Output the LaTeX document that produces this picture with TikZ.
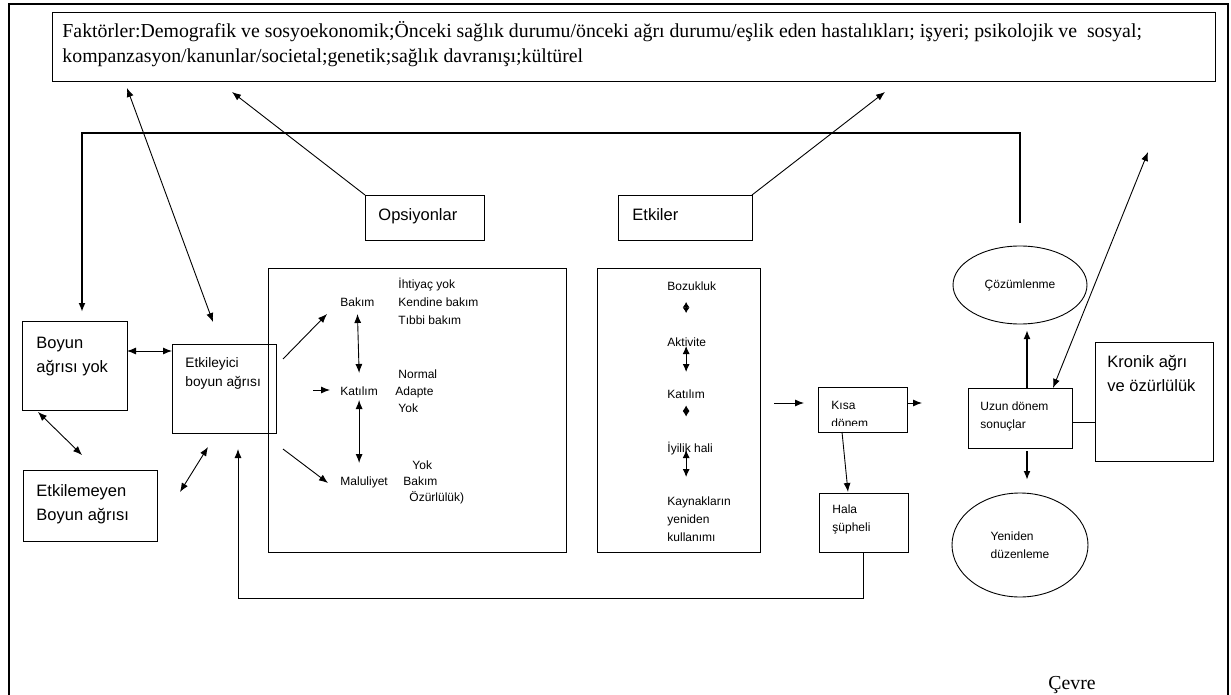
\documentclass[tikz,border=0pt]{standalone}
\usepackage{fontspec}
\setmainfont{Liberation Serif}
\setsansfont{Liberation Sans}
\usetikzlibrary{arrows.meta,shapes.geometric,calc}

\begin{document}
\begin{tikzpicture}[x=1pt,y=-1pt,>={Latex[length=9pt,width=7pt]},
line width=0.9pt,
box/.style={draw,rectangle,inner sep=0pt,outer sep=0pt,anchor=north west},
oval/.style={draw,ellipse,inner sep=0pt,outer sep=0pt,align=left,font=\sffamily\fontsize{12}{18}\selectfont},
smalltxt/.style={font=\sffamily\fontsize{12}{18}\selectfont,inner sep=0pt,align=left,anchor=base west},
midtxt/.style={smalltxt,font=\sffamily\fontsize{13.7}{19}\selectfont},
bigtxt/.style={smalltxt,font=\sffamily\fontsize{16.5}{24}\selectfont},
serif/.style={font=\rmfamily\fontsize{19.8}{25}\selectfont,inner sep=0pt,align=left,anchor=base west},
fat/.style={line width=2.5pt},
diam/.style={{Latex[length=5.5pt,width=7pt]}-{Latex[length=5.5pt,width=7pt]}}]

\useasboundingbox (0,0) rectangle (1231,695);
\draw[line width=1.2pt] (9,695) -- (9,4) -- (1228,4) -- (1228,695);

\node[box,minimum width=1163pt,minimum height=69pt] (fak) at (52,12) {};
\node[serif] (fakT) at (62,63) {Faktörler:Demografik ve sosyoekonomik;Önceki sağlık durumu/önceki ağrı durumu/eşlik eden hastalıkları; işyeri; psikolojik ve~ sosyal;\\kompanzasyon/kanunlar/societal;genetik;sağlık davranışı;kültürel};

\node[box,minimum width=119pt,minimum height=45pt] (ops) at (365,195) {};
\node[bigtxt] (opsT) at (378,221) {Opsiyonlar};
\node[box,minimum width=134pt,minimum height=45pt] (etkb) at (618,195) {};
\node[bigtxt] (etkbT) at (632,221) {Etkiler};

\node[box,minimum width=105pt,minimum height=89pt] (boyun) at (22,321) {};
\node[bigtxt] (boyunT) at (36,372) {Boyun\\ağrısı yok};
\node[box,minimum width=104pt,minimum height=89pt] (etk) at (172,344) {};
\node[midtxt] (etkT) at (185,386.5) {Etkileyici\\boyun ağrısı};
\node[box,minimum width=134pt,minimum height=71pt] (etkm) at (23,470) {};
\node[bigtxt] (etkmT) at (36,520) {Etkilemeyen\\Boyun ağrısı};

\node[box,minimum width=298pt,minimum height=284pt] (opt) at (268,268) {};
\node[smalltxt] (ihtiyac) at (398,324.5) {İhtiyaç yok\\Kendine bakım\\Tıbbi bakım};
\node[smalltxt] (bakim) at (340,306.5) {Bakım};
\node[smalltxt] (normal) at (398,378.5) {Normal};
\node[smalltxt] (kat1) at (340,395.5) {Katılım};
\node[smalltxt] (adapte) at (395,395.5) {Adapte};
\node[smalltxt] (yok1) at (398,412.5) {Yok};
\node[smalltxt] (yok2) at (412,469.5) {Yok};
\node[smalltxt] (malu) at (340,485.5) {Maluliyet};
\node[smalltxt] (bakim2) at (403,485.5) {Bakım};
\node[smalltxt] (ozur) at (409,501.5) {Özürlülük)};

\node[box,minimum width=163pt,minimum height=284pt] (eff) at (597,268) {};
\node[smalltxt] (boz) at (667,290) {Bozukluk};
\node[smalltxt] (akt) at (667,346) {Aktivite};
\node[smalltxt] (kat2) at (667,398.5) {Katılım};
\node[smalltxt] (iyi) at (667,452.5) {İyilik hali};
\node[smalltxt] (kay) at (667,541.5) {Kaynakların\\yeniden\\kullanımı};

\node[box,minimum width=89pt,minimum height=45pt] (kisa) at (818,387) {};
\begin{scope}
\clip (kisa.north west) rectangle ($(kisa.south east)+(0,-7)$);
\node[smalltxt] (kisaT) at (831,427) {Kısa\\dönem};
\end{scope}
\node[box,minimum width=89pt,minimum height=59pt] (hala) at (819,493) {};
\node[smalltxt] (halaT) at (832,531) {Hala\\şüpheli};

\node[box,minimum width=104pt,minimum height=60pt] (uzun) at (968,388) {};
\node[smalltxt] (uzunT) at (980,428) {Uzun dönem\\sonuçlar};
\node[box,minimum width=118pt,minimum height=119pt] (kronik) at (1095,342) {};
\node[bigtxt] (kronikT) at (1107,391.7) {Kronik ağrı\\ve özürlülük};
\node[oval,minimum width=134pt,minimum height=78pt] (cozum) at (1020,285) {Çözümlenme};
\node[oval,minimum width=136pt,minimum height=104pt] (yeni) at (1020,545) {Yeniden\\düzenleme};

\node[serif] (cevre) at (1048,689) {Çevre};

\draw[fat,->] ($(cozum.north)+(0,-23)$) |- ($(boyun.north)+(7.5,-188)$) -- ($(boyun.north)+(7.5,-9)$);
\draw[->] (ops.north west) -- ($(fak.south west)+(180,11)$);
\draw[->] (etkb.north east) -- ($(fak.south west)+(833,11)$);
\draw[<->] ($(etk.north)+(-11,-22)$) -- ($(fak.south west)+(75,7)$);
\draw[<->] ($(uzun.north)+(33,0)$) -- ($(fak.south east)+(-67,71)$);

\draw[<->] ($(boyun.east)+(0,-14.5)$) -- ($(etk.west)+(0,-37.5)$);
\draw[<->] ($(boyun.south west)+(16,2)$) -- ($(etkm.north west)+(59,-15)$);
\draw[<->] ($(etkm.east)+(23,-13.5)$) -- ($(etk.south west)+(36,14)$);

\draw[->] ($(etk.north east)+(7,15)$) -- ($(bakim.base west)+(-13,7.5)$);
\draw[->] ($(kat1.base west)+(-27,-5.5)$) -- ($(kat1.base west)+(-10,-5.5)$);
\draw[->] ($(etk.south east)+(7,16)$) -- ($(malu.base west)+(-12,-2.5)$);
\draw[<->] ($(bakim.base)+(0,7.5)$) -- ($(kat1.base)+(0,-22.5)$);
\draw[<->] ($(kat1.base)+(0,4.5)$) -- ($(kat1.base |- malu.base)+(0,-22.5)$);

\draw[diam] ($(kat2.base |- boz.base)+(0,12)$) -- ($(kat2.base |- boz.base)+(0,23)$);
\draw[<->,>={Latex[length=8pt,width=7pt]}] (kat2.base |- akt.base) -- ($(kat2.base)+(0,-26.5)$);
\draw[diam] ($(kat2.base)+(0,7)$) -- ($(kat2.base)+(0,18)$);
\draw[<->,>={Latex[length=8pt,width=7pt]}] ($(kat2.base |- iyi.base)+(0,-2.5)$) -- ($(kat2.base)+(0,78.5)$);

\draw[->] ($(eff.east)+(14,-7)$) -- ($(kisa.west)+(-14,-6.5)$);
\draw[->] ($(kisa.east)+(0,-6.5)$) -- ($(kisa.east)+(15,-6.5)$);
\draw[->] ($(kisa.south)+(-20.5,0)$) -- ($(hala.north)+(-15.5,-1)$);
\draw[->] (hala.south) -- ++(0,46) -| ($(etk.south)+(14,16)$);

\draw[fat,->] ($(uzun.north)+(7,0)$) -- ($(cozum.south)+(7,6)$);
\draw[fat,->] ($(uzun.south)+(7,3)$) -- ($(yeni.north)+(7,-13)$);
\draw ($(uzun.east)+(0,4)$) -- ($(uzun.east)+(23,4)$);

\end{tikzpicture}
\end{document}
